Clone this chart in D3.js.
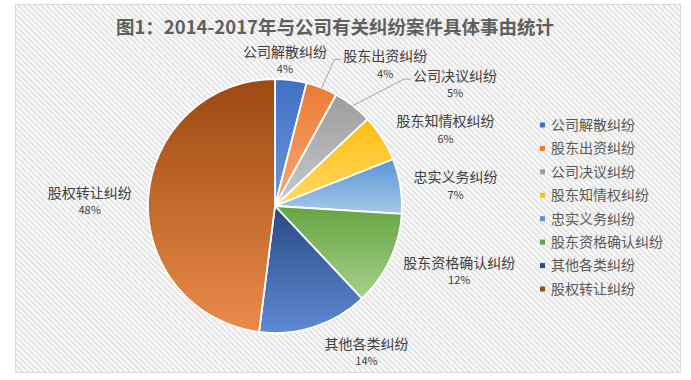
<!DOCTYPE html>
<html><head><meta charset="utf-8">
<script src="https://cdn.jsdelivr.net/npm/d3@7"></script>
<style>body{margin:0;background:#fff;}svg{display:block;}</style>
</head><body>
<svg id="c" width="691" height="380"></svg>
<script>
const title = "图1：2014-2017年与公司有关纠纷案件具体事由统计";
const categories = ["公司解散纠纷","股东出资纠纷","公司决议纠纷","股东知情权纠纷","忠实义务纠纷","股东资格确认纠纷","其他各类纠纷","股权转让纠纷"];
const values = [4,4,5,6,7,12,14,48];
const pctLabels = ["4%","4%","5%","6%","7%","12%","14%","48%"];
const topColors = ["#4170c4","#ec7a30","#9c9c9c","#fdbe10","#5995d2","#65a442","#294982","#9c4812"];
const bottomColors = ["#6b95dc","#f5aa7a","#cacaca","#ffd966","#a8c8ea","#a7d18b","#5f8ad4","#ea8b4a"];
// label placement (polar, degrees clockwise from 12 o'clock, radius factor)
const labelAngles = [3.9,38,56,66,83.7,109.6,148,271.5];
const labelRadii = [1.15,1.41,1.71,1.47,1.43,1.54,1.36,1.46];
const leaderLines = [false,true,true,false,false,false,false,false];

const svg = d3.select("#c");
const defs = svg.append("defs");
const pat = defs.append("pattern").attr("id","stripe").attr("patternUnits","userSpaceOnUse")
  .attr("width",4).attr("height",4).attr("patternTransform","rotate(-45)");
pat.append("rect").attr("width",4).attr("height",4).attr("fill","#fbfbfb");
pat.append("rect").attr("width",2).attr("height",4).attr("fill","#e4e4e4");

svg.append("rect").attr("x",15.5).attr("y",4.5).attr("width",665).attr("height",368)
  .attr("fill","url(#stripe)").attr("stroke","#d9d9d9");

svg.append("text").attr("x",335).attr("y",34).attr("text-anchor","middle")
  .attr("font-family","'Noto Sans CJK SC'").attr("font-weight","bold").attr("font-size",18.5)
  .attr("fill","#5f5f5f").text(title);

const cx = 275, cy = 206, r = 127;
const data = categories.map((c,i)=>({c, v:values[i], i}));
const pie = d3.pie().sort(null).value(d=>d.v).startAngle(0).endAngle(2*Math.PI);
const arcs = pie(data);
const arc = d3.arc().innerRadius(0).outerRadius(r);

arcs.forEach((a,i)=>{
  const g = defs.append("linearGradient").attr("id","g"+i).attr("x1",0).attr("y1",0).attr("x2",0).attr("y2",1);
  g.append("stop").attr("offset","0%").attr("stop-color",topColors[i]);
  g.append("stop").attr("offset","100%").attr("stop-color",bottomColors[i]);
});

const gp = svg.append("g").attr("transform",`translate(${cx},${cy})`);
gp.selectAll("path").data(arcs).join("path")
  .attr("d",arc).attr("fill",(d,i)=>`url(#g${i})`).attr("stroke","#fff").attr("stroke-width",1.8)
  .attr("stroke-linejoin","round");

const polar = (deg, rad) => [Math.sin(deg*Math.PI/180)*rad, -Math.cos(deg*Math.PI/180)*rad];
const lg = gp.append("g").attr("font-family","'Noto Sans CJK SC'").attr("fill","#404040");
arcs.forEach((a,i)=>{
  const [lx,ly] = polar(labelAngles[i], labelRadii[i]*r);
  const t = lg.append("text").attr("x",lx).attr("y",ly-8.5).attr("dy","0.35em")
    .attr("text-anchor","middle").attr("font-size",14).text(categories[i]);
  lg.append("text").attr("x",lx).attr("y",ly+9).attr("dy","0.35em")
    .attr("text-anchor","middle").attr("font-size",11).text(pctLabels[i]);
  if (leaderLines[i]) {
    const bb = t.node().getBBox();
    const mid = (a.startAngle+a.endAngle)/2*180/Math.PI;
    const [sx,sy] = polar(mid, r);
    const ey = ly-8.5+3;
    gp.append("polyline").attr("points",`${sx},${sy} ${bb.x-9},${ey} ${bb.x-2},${ey}`)
      .attr("fill","none").attr("stroke","#a6a6a6").attr("stroke-width",1);
  }
});

const legY = d3.scaleLinear().domain([0,categories.length-1]).range([125,289]);
const leg = svg.append("g").attr("font-family","'Noto Sans CJK SC'");
categories.forEach((c,i)=>{
  leg.append("rect").attr("x",540).attr("y",legY(i)-2.5).attr("width",5).attr("height",5).attr("fill",topColors[i]);
  leg.append("text").attr("x",551).attr("y",legY(i)).attr("dy","0.35em").attr("font-size",14)
    .attr("fill","#595959").text(c);
});
</script>
</body></html>
